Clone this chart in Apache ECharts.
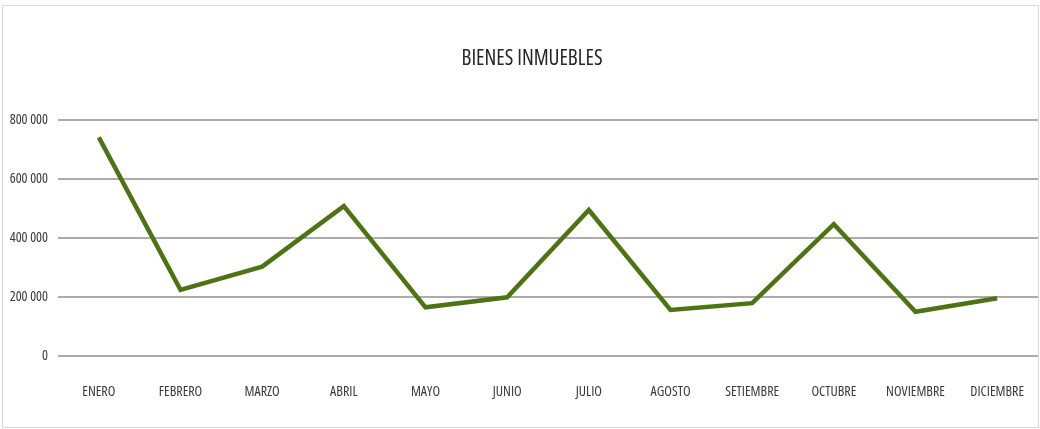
<!DOCTYPE html>
<html>
<head>
<meta charset="utf-8">
<style>
  html, body { margin: 0; padding: 0; background: #fff; }
  #chart { width: 1040px; height: 429px; }
  .frame {
    position: absolute; left: 2px; top: 5px; width: 1035px; height: 421px;
    border: 1px solid #d9d9d9; pointer-events: none;
  }
</style>
<script src="https://cdn.jsdelivr.net/npm/echarts@6/dist/echarts.min.js"></script>
</head>
<body>
<div id="chart"></div>
<div class="frame"></div>
<script>
const months = [
  "ENERO", "FEBRERO", "MARZO", "ABRIL", "MAYO", "JUNIO",
  "JULIO", "AGOSTO", "SETIEMBRE", "OCTUBRE", "NOVIEMBRE", "DICIEMBRE",
];
const bienesInmuebles = [
  741000, 224000, 303000, 508000, 165000, 199000,
  495000, 156000, 179000, 447000, 150000, 196000,
];
const yTicks = [0, 200000, 400000, 600000, 800000];

// "condensed" goes into the weight slot of the font shorthand -> font-stretch
const narrow = { fontFamily: "'Open Sans', sans-serif", fontWeight: "condensed" };

function formatThousands(value) {
  return String(value).replace(/\B(?=(\d{3})+(?!\d))/g, " ");
}

const chart = echarts.init(document.getElementById("chart"));
chart.setOption({
  animation: false,
  title: {
    text: "BIENES INMUEBLES",
    left: 527,
    top: 44,
    textAlign: "center",
    textStyle: { ...narrow, fontSize: 21, color: "#262626" },
  },
  grid: { left: 58, right: 2, top: 120, bottom: 73, outerBoundsMode: "none" },
  xAxis: {
    type: "category",
    data: months,
    boundaryGap: true,
    axisLine: { show: false },
    axisTick: { show: false },
    axisLabel: { ...narrow, margin: 29, interval: 0, fontSize: 14, color: "#3a3a3a" },
  },
  yAxis: {
    type: "value",
    min: yTicks[0],
    max: yTicks[yTicks.length - 1],
    interval: yTicks[1] - yTicks[0],
    axisLine: { show: false },
    axisTick: { show: false },
    axisLabel: { ...narrow, margin: 10, fontSize: 14, color: "#3a3a3a", formatter: formatThousands },
    splitLine: { lineStyle: { color: "#acacac", width: 2 } },
  },
  series: [
    {
      name: "Bienes inmuebles",
      type: "line",
      data: bienesInmuebles,
      showSymbol: false,
      symbol: "none",
      lineStyle: { color: "#4e7314", width: 4.5, join: "miter", cap: "butt" },
    },
  ],
});
</script>
</body>
</html>
